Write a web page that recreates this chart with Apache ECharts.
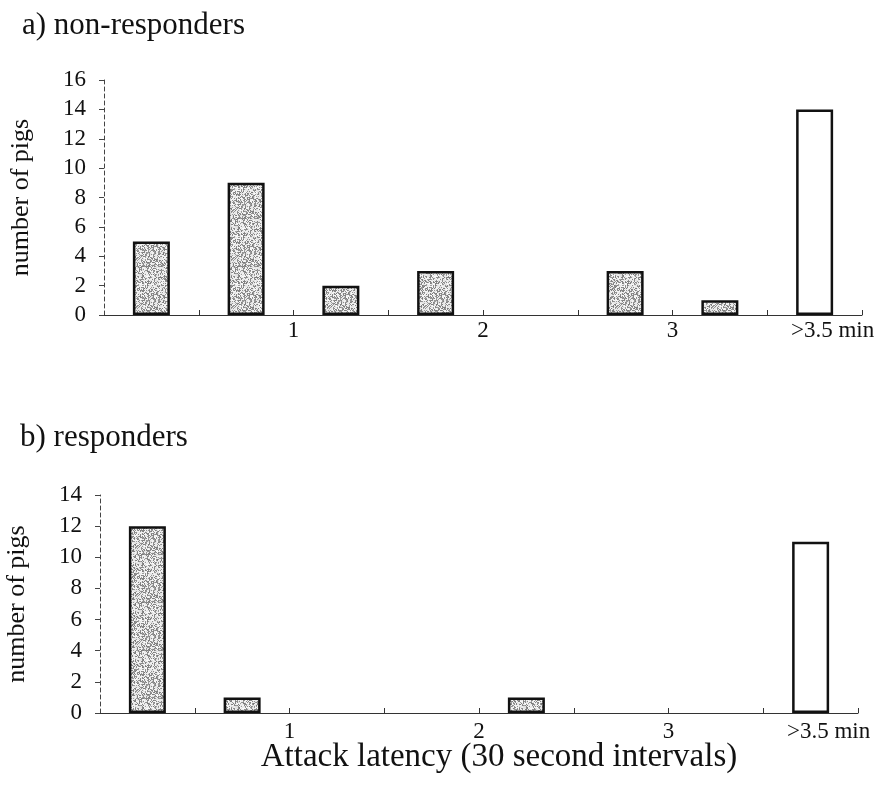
<!DOCTYPE html>
<html>
<head>
<meta charset="utf-8">
<script src="https://cdn.jsdelivr.net/npm/echarts@6/dist/echarts.min.js"></script>
<style>
  html, body { margin: 0; padding: 0; background: #fff; }
  #chart { width: 881px; height: 791px; }
</style>
</head>
<body>
<div id="chart"></div>
<script>
// Attack latency bins: 30-second intervals, midpoints in minutes; last bin is open-ended (>3.5 min)
const binMidpoints = [0.25, 0.75, 1.25, 1.75, 2.25, 2.75, 3.25, 3.75];
const nonResponders = [5, 9, 2, 3, 0, 3, 1, 14];
const responders = [12, 1, 0, 0, 1, 0, 0, 11];

const xTickValues = [0.5, 1, 1.5, 2, 2.5, 3, 3.5, 4];
const xLabelValues = [1, 2, 3, 3.75];
const xLabelTexts = ['1', '2', '3', '>3.5 min'];

const FONT = 'Liberation Serif';
const INK = '#111';

// Stippled grey fill for the closed-interval bars (deterministic speckle texture)
function stipplePattern() {
  const size = 48;
  const c = document.createElement('canvas');
  c.width = size; c.height = size;
  const ctx = c.getContext('2d');
  const img = ctx.createImageData(size, size);
  for (let y = 0; y < size; y++) {
    for (let x = 0; x < size; x++) {
      let h = (x * 374761393 + y * 668265263) | 0;
      h = Math.imul(h ^ (h >>> 13), 1274126177);
      h = (h ^ (h >>> 16)) >>> 0;
      const dark = (h % 100) < 40;
      const v = dark ? 120 + (h % 40) : 222 + (h % 30);
      const i = (y * size + x) * 4;
      img.data[i] = v; img.data[i + 1] = v; img.data[i + 2] = v; img.data[i + 3] = 255;
    }
  }
  ctx.putImageData(img, 0, 0);
  return { image: c, repeat: 'repeat' };
}
const FILL = stipplePattern();

function barData(counts) {
  const out = [];
  counts.forEach((c, i) => {
    if (c <= 0) return;
    const openBin = i === counts.length - 1;
    out.push({
      value: [binMidpoints[i], c],
      itemStyle: { color: openBin ? '#fff' : FILL }
    });
  });
  return out;
}

function xAxisFor(gridIndex, labelMargin, extra) {
  return Object.assign({
    type: 'value',
    gridIndex: gridIndex,
    min: 0,
    max: 4,
    splitLine: { show: false },
    axisLine: { show: true, lineStyle: { color: '#333', width: 1 } },
    axisTick: {
      show: true, inside: true, length: 5,
      customValues: xTickValues,
      lineStyle: { color: '#333', width: 1 }
    },
    axisLabel: {
      customValues: xLabelValues,
      margin: labelMargin,
      color: INK,
      fontFamily: FONT,
      fontSize: 23,
      formatter: function (v) {
        const k = xLabelValues.indexOf(v);
        if (k < 0) return '';
        return k === xLabelTexts.length - 1 ? '{open|' + xLabelTexts[k] + '}' : xLabelTexts[k];
      },
      rich: { open: { fontFamily: FONT, fontSize: 23, color: INK, padding: [0, 0, 0, 36] } }
    }
  }, extra || {});
}

function yAxisFor(gridIndex, max) {
  return {
    type: 'value',
    gridIndex: gridIndex,
    min: 0,
    max: max,
    interval: 2,
    splitLine: { show: false },
    axisLine: { show: true, lineStyle: { color: '#444', width: 1, type: [4, 3] } },
    axisTick: { show: true, length: 5, lineStyle: { color: '#444', width: 1 } },
    axisLabel: { margin: 18, color: INK, fontFamily: FONT, fontSize: 23 },
    name: 'number of pigs',
    nameLocation: 'middle',
    nameRotate: 90,
    nameGap: 70,
    nameTextStyle: { color: INK, fontFamily: FONT, fontSize: 26 }
  };
}

const chart = echarts.init(document.getElementById('chart'), null, { renderer: 'canvas' });

chart.setOption({
  backgroundColor: '#fff',
  animation: false,
  title: [
    { text: 'a) non-responders', left: 17, top: 5,
      textStyle: { fontFamily: FONT, fontSize: 31, fontWeight: 'normal', color: INK } },
    { text: 'b) responders', left: 15, top: 417,
      textStyle: { fontFamily: FONT, fontSize: 31, fontWeight: 'normal', color: INK } }
  ],
  grid: [
    { left: 104, top: 80, width: 758, height: 235, containLabel: false, outerBoundsMode: 'none' },
    { left: 100, top: 495, width: 758, height: 218, containLabel: false, outerBoundsMode: 'none' }
  ],
  xAxis: [
    xAxisFor(0, 4),
    xAxisFor(1, 7, {
      name: 'Attack latency (30 second intervals)',
      nameLocation: 'middle',
      nameGap: 28,
      nameMoveOverlap: false,
      nameTextStyle: { color: INK, fontFamily: FONT, fontSize: 33, padding: [0, 0, 0, 40] }
    })
  ],
  yAxis: [yAxisFor(0, 16), yAxisFor(1, 14)],
  series: [
    {
      type: 'bar', xAxisIndex: 0, yAxisIndex: 0,
      barWidth: 37,
      data: barData(nonResponders),
      itemStyle: { borderColor: INK, borderWidth: 2.5 }
    },
    {
      type: 'bar', xAxisIndex: 1, yAxisIndex: 1,
      barWidth: 37,
      data: barData(responders),
      itemStyle: { borderColor: INK, borderWidth: 2.5 }
    }
  ]
});
</script>
</body>
</html>
